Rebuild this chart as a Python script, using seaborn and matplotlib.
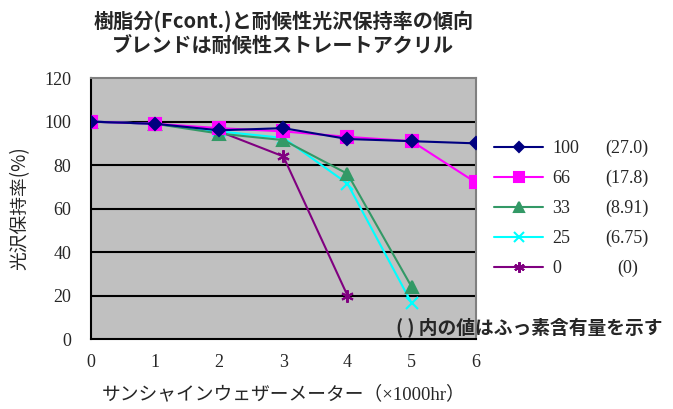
import matplotlib
matplotlib.use("Agg")
import matplotlib.pyplot as plt
import seaborn as sns
import numpy as np
import pandas as pd

# ---- data ----
hours = [0, 1, 2, 3, 4, 5, 6]
s100 = [100, 99, 96, 97, 92, 91, 90]
s66 = [100, 99, 97, 95.5, 93, 91, 72]
s33 = [100, 99, 94.5, 91.5, 76, 24, np.nan]
s25 = [100, 99, 95.5, 92.5, 71.5, 16.5, np.nan]
s0 = [100, 99, 95.5, 84, 20, np.nan, np.nan]
series_names = ["100", "66", "33", "25", "0"]
fluorine = ["(27.0)", "(17.8)", "(8.91)", "(6.75)", "(0)"]
x_ticks = [0, 1, 2, 3, 4, 5, 6]
y_ticks = [0, 20, 40, 60, 80, 100, 120]
title = "樹脂分(Fcont.)と耐候性光沢保持率の傾向\nブレンドは耐候性ストレートアクリル"
xlabel = "サンシャインウェザーメーター（×1000hr）"
ylabel = "光沢保持率(%)"
note = "( ) 内の値はふっ素含有量を示す"

colors = ["#000080", "#FF00FF", "#339966", "#00FFFF", "#800080"]
markers = ["D", "s", "^", "x", (6, 2, 0)]
msizes = [6, 8, 8, 8, 9]

rows = []
for name, vals in zip(series_names, [s100, s66, s33, s25, s0]):
    for h, v in zip(hours, vals):
        if not np.isnan(v):
            rows.append({"h": h, "v": v, "s": name})
df = pd.DataFrame(rows)

sns.set_style("white")
plt.rcParams["font.family"] = ["Liberation Serif", "Noto Sans CJK JP"]
jp_sans = ["Noto Sans CJK JP", "DejaVu Sans"]
serif_mix = ["Liberation Serif", "Noto Sans CJK JP"]

fig = plt.figure(figsize=(6.73, 4.09), dpi=100)
ax = fig.add_axes([0.135, 0.171, 0.572, 0.638])
ax.set_facecolor("#C0C0C0")

for i, name in enumerate(series_names):
    sub = df[df["s"] == name]
    sns.lineplot(data=sub, x="h", y="v", ax=ax, color=colors[i], marker=markers[i],
                 markersize=msizes[i], markeredgecolor=colors[i], markerfacecolor=colors[i],
                 markeredgewidth=1.5, linewidth=1.5, label=name, zorder=3 + (5 - i) * 0.1)

ax.set_xlim(0, 6)
ax.set_ylim(0, 120)
ax.set_xticks(x_ticks)
ax.set_yticks(y_ticks)
ax.set_xticklabels([str(t) for t in x_ticks], fontsize=13, family="Liberation Serif")
ax.set_yticklabels([str(t) for t in y_ticks], fontsize=13, family="Liberation Serif")
ax.tick_params(axis="x", direction="in", length=4, width=1, color="black", pad=11)
ax.tick_params(axis="y", direction="in", length=0, pad=14)
for y in y_ticks[1:-1]:
    ax.axhline(y, color="black", linewidth=1.5, zorder=1)
for side in ["left", "bottom"]:
    ax.spines[side].set_color("black")
    ax.spines[side].set_linewidth(1.5)
for side in ["top", "right"]:
    ax.spines[side].set_color("#808080")
    ax.spines[side].set_linewidth(1.5)

ax.set_xlabel(xlabel, fontsize=13.5, family=serif_mix, labelpad=10)
ax.set_ylabel(ylabel, fontsize=13.5, family=jp_sans, labelpad=10)
ax.set_title(title, fontsize=14.5, family=jp_sans, fontweight="bold", pad=18, linespacing=1.25)

leg = ax.legend(loc="upper left", bbox_to_anchor=(0.724, 0.675), bbox_transform=fig.transFigure,
                frameon=False, fontsize=13, handlelength=2.7, handletextpad=0.5,
                labelspacing=0.72, borderaxespad=0, markerscale=0.85)
for t in leg.get_texts():
    t.set_family("Liberation Serif")

fig.canvas.draw()
renderer = fig.canvas.get_renderer()
inv = fig.transFigure.inverted()
for t, f in zip(leg.get_texts(), fluorine):
    bb = t.get_window_extent(renderer)
    yc = inv.transform(((bb.x0 + bb.x1) / 2, (bb.y0 + bb.y1) / 2))[1]
    fig.text(0.932, yc, f, ha="center", va="center", fontsize=13, family="Liberation Serif")

fig.text(0.588, 0.198, note, fontsize=13.5, family=jp_sans, fontweight="bold", ha="left", va="center")

fig.savefig("out.png", dpi=100)
